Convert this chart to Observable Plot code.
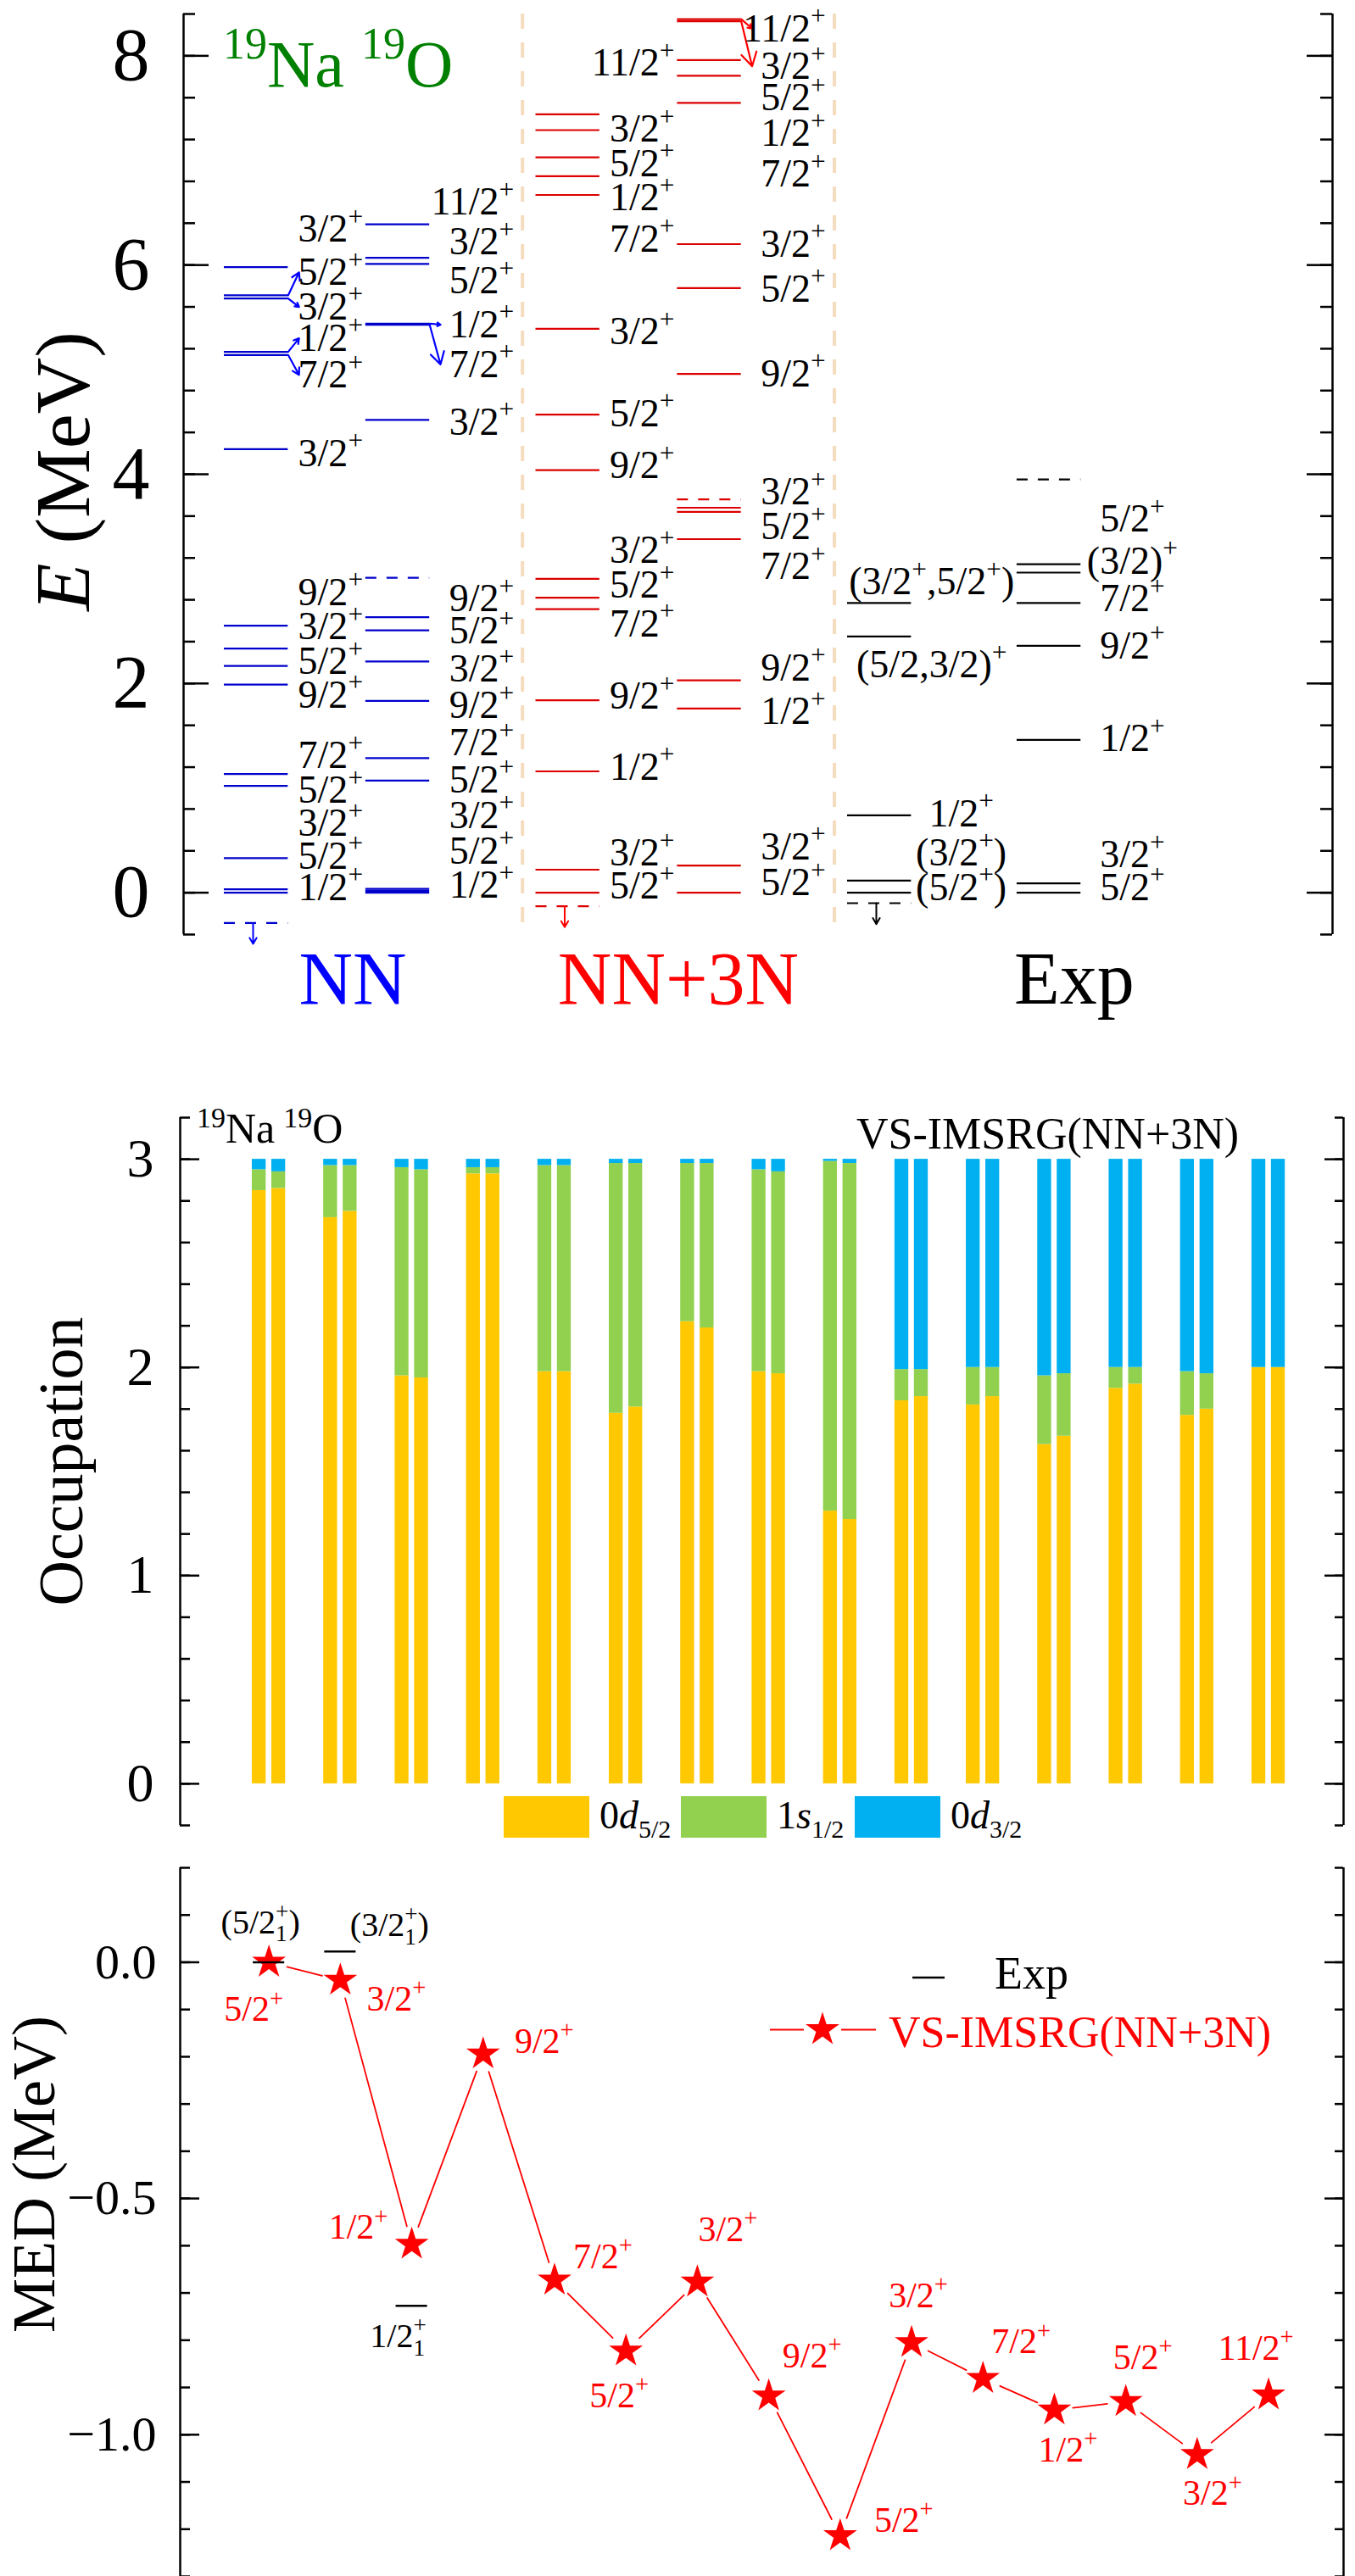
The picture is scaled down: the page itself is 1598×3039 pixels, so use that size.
<!DOCTYPE html>
<html><head><meta charset="utf-8">
<script src="https://cdn.jsdelivr.net/npm/d3@7"></script>
<script src="https://cdn.jsdelivr.net/npm/@observablehq/plot@0.6"></script>
<style>
html,body{margin:0;padding:0;background:#fff;}
#root{position:relative;width:1598px;height:3039px;overflow:hidden;background:#fff;}
#root svg, #root svg text, #root svg tspan {font-family:"Liberation Serif","Times New Roman",serif !important;}
</style></head><body><div id="root"></div>
<script>
// ---------------- DATA ----------------
// Panel 1: level schemes. Each row: [E (MeV), J^pi, label E (MeV), arrow-to-label flag]
const groups = ["NN", "NN+3N", "Exp"];
const nuclei = ["19Na", "19O"];
const nnNa = [
 [0.000,"1/2^+",0.05,0],[0.032,"5/2^+",0.35,0],[0.33,"3/2^+",0.66,0],[1.021,"5/2^+",0.98,0],[1.135,"7/2^+",1.31,0],
 [1.99,"9/2^+",1.89,0],[2.167,"5/2^+",2.21,0],[2.334,"3/2^+",2.54,0],[2.553,"9/2^+",2.87,0],[4.24,"3/2^+",4.20,0],
 [5.14,"7/2^+",4.95,1],[5.17,"1/2^+",5.30,1],[5.68,"3/2^+",5.60,1],[5.71,"5/2^+",5.93,1],[5.98,"3/2^+",6.34,0]];
const nnO = [
 [0.000,"1/2^+",0.07,0],[0.018,"5/2^+",0.40,0],[0.036,"3/2^+",0.74,0],[1.072,"5/2^+",1.08,0],[1.286,"7/2^+",1.43,0],
 [1.834,"9/2^+",1.79,0],[2.21,"3/2^+",2.135,0],[2.508,"5/2^+",2.50,0],[2.634,"9/2^+",2.81,0],[4.52,"3/2^+",4.50,0],
 [5.43,"7/2^+",5.05,1],[5.44,"1/2^+",5.43,1],[6.01,"5/2^+",5.85,0],[6.07,"3/2^+",6.22,0],[6.39,"11/2^+",6.60,0]];
const nn3nNa = [
 [0.00,"5/2^+",0.065,0],[0.22,"3/2^+",0.38,0],[1.16,"1/2^+",1.20,0],[1.84,"9/2^+",1.88,0],[2.71,"7/2^+",2.57,0],
 [2.82,"5/2^+",2.94,0],[3.00,"3/2^+",3.27,0],[4.04,"9/2^+",4.08,0],[4.57,"5/2^+",4.58,0],[5.39,"3/2^+",5.36,0],
 [6.67,"7/2^+",6.25,0],[6.85,"1/2^+",6.64,0],[7.03,"5/2^+",6.97,0],[7.29,"3/2^+",7.30,0],[7.44,"11/2^+",7.93,0]];
const nn3nO = [
 [0.00,"5/2^+",0.095,0],[0.26,"3/2^+",0.44,0],[1.76,"1/2^+",1.73,0],[2.03,"9/2^+",2.15,0],[3.38,"7/2^+",3.12,0],
 [3.64,"5/2^+",3.50,0],[3.68,"3/2^+",3.83,0],[4.96,"9/2^+",4.96,0],[5.78,"5/2^+",5.77,0],[6.20,"3/2^+",6.20,0],
 [7.55,"7/2^+",6.87,0],[7.81,"1/2^+",7.26,0],[7.96,"5/2^+",7.60,0],[8.33,"3/2^+",7.90,1],[8.35,"11/2^+",8.26,1]];
const expNa = [[0.00,"(5/2^+)",0.05,0],[0.116,"(3/2^+)",0.38,0],[0.74,"1/2^+",0.755,0],[2.45,"(5/2,3/2)^+",2.18,0],[2.77,"(3/2^+,5/2^+)",2.97,0]];
const expO = [[0.00,"5/2^+",0.05,0],[0.09,"3/2^+",0.36,0],[1.46,"1/2^+",1.47,0],[2.36,"9/2^+",2.36,0],[2.77,"7/2^+",2.81,0],[3.06,"(3/2)^+",3.17,0],[3.14,"5/2^+",3.57,0]];
// particle-emission thresholds [19Na, 19O] (MeV)
const nnThr = [-0.29, 3.01];
const nn3nThr = [-0.13, 3.76];
const expThr = [-0.10, 3.95];

// Panel 2: occupations of 15 states (pairs: 19Na, 19O)
const orbits = ["0d5/2", "1s1/2", "0d3/2"];
const naD52 = [2.85,2.72,1.96,2.93,1.98,1.78,2.22,1.98,1.31,1.84,1.82,1.63,1.90,1.77,2.00];
const naS12 = [0.10,0.25,1.00,0.03,0.99,1.20,0.76,0.97,1.68,0.15,0.18,0.33,0.10,0.21,0.00];
const naD32 = [0.05,0.03,0.04,0.04,0.03,0.02,0.02,0.05,0.01,1.01,1.00,1.04,1.00,1.02,1.00];
const oD52  = [2.86,2.75,1.95,2.93,1.98,1.81,2.19,1.97,1.27,1.86,1.86,1.67,1.92,1.80,2.00];
const oS12  = [0.08,0.22,1.00,0.03,0.99,1.17,0.79,0.97,1.71,0.13,0.14,0.30,0.08,0.17,0.00];
const oD32  = [0.06,0.03,0.05,0.04,0.03,0.02,0.02,0.06,0.02,1.01,1.00,1.03,1.00,1.03,1.00];

// Panel 3: mirror energy differences (MeV)
const medJ = ["5/2","3/2","1/2","9/2","7/2","5/2","3/2","9/2","5/2","3/2","7/2","1/2","5/2","3/2","11/2"];
const medCalc = [0.000,-0.038,-0.597,-0.194,-0.673,-0.823,-0.677,-0.918,-1.214,-0.805,-0.881,-0.948,-0.930,-1.042,-0.916];
const medExp = [0.000, 0.023, -0.727];
const medExpJ = ["(5/2_1^+)", "(3/2_1^+)", "1/2_1^+"];

// ---------------- LAYOUT / STYLE ----------------
const W = 1598;
const FONT = '"Liberation Serif","Times New Roman",serif';
const root = document.getElementById("root");
const lineColor = ["#0000CC", "#DD0000", "#000000"];
const arrowColor = ["#0000FF", "#FF0000", "#000000"];
const groupColor = ["#0000FF", "#FF0000", "#000000"];
const orbitColor = ["#FFC800", "#92D050", "#00B0F0"];
const RED = "#FF0000";

function place(svg, top) {
  svg.style.position = "absolute"; svg.style.left = "0px"; svg.style.top = top + "px";
  root.appendChild(svg);
  richify(svg);
}
// turn ^x / _x markup into superscript / subscript tspans
function richify(svg) {
  svg.querySelectorAll("text").forEach(t => {
    const s = t.textContent;
    if (!/[\^_]/.test(s)) return;
    const fs = parseFloat(getComputedStyle(t).fontSize) || 40;
    const small = fs * 0.68;
    const toks = [];
    let i = 0;
    while (i < s.length) {
      const c = s[i];
      if (c === "^" || c === "_") {
        let content;
        if (s[i + 1] === "{") { const j = s.indexOf("}", i + 2); content = s.slice(i + 2, j); i = j + 1; }
        else { content = s[i + 1]; i += 2; }
        toks.push({type: c === "^" ? "sup" : "sub", text: content});
      } else {
        let j = i; while (j < s.length && s[j] !== "^" && s[j] !== "_") j++;
        toks.push({type: "n", text: s.slice(i, j)}); i = j;
      }
    }
    t.textContent = "";
    let cur = 0, prev = null;
    toks.forEach(tok => {
      const ts = document.createElementNS("http://www.w3.org/2000/svg", "tspan");
      const target = tok.type === "sup" ? -fs * 0.42 : tok.type === "sub" ? fs * 0.24 : 0;
      ts.setAttribute("dy", (target - cur).toFixed(2)); cur = target;
      if (tok.type !== "n") ts.setAttribute("font-size", small.toFixed(1));
      if (tok.type === "sup" && prev && prev.type === "sub") ts.setAttribute("dx", (-prev.text.length * small * 0.5).toFixed(1));
      ts.textContent = tok.text;
      t.appendChild(ts);
      prev = tok;
    });
  });
}

// ---------------- PANEL 1 ----------------
{
  const xd = [-0.1306, 3.5565], yd = [-0.4, 8.4];
  const mL = 216, mR = 27, fw = W - mL - mR;
  const lineLen = 0.205, oOff = [0.454, 0.454, 0.544];
  const levels = [], labEnd = [], labMid = [], arrows = [], thrLines = [], thrArrows = [];
  const sets = [[nnNa, nnO, nnThr], [nn3nNa, nn3nO, nn3nThr], [expNa, expO, expThr]];
  sets.forEach(([na, o, thr], g) => {
    [na, o].forEach((rows, n) => {
      const x1 = g + (n ? oOff[g] : 0), x2 = x1 + lineLen;
      rows.forEach(([E, J, lE, arr]) => {
        levels.push({x1, x2, E, c: lineColor[g]});
        if (g < 2) labEnd.push({x: g + (n ? 0.93 : 0.445), y: lE, J});
        else labMid.push({x: g + (n ? 0.914 : (J.length > 8 ? 0.27 : 0.365)), y: lE, J});
        if (arr) arrows.push({x1: x2, y1: E, x2: x2 + 0.035, y2: lE, c: arrowColor[g]});
      });
      thrLines.push({x1, x2, E: thr[n], c: lineColor[g]});
      if (n === 0) thrArrows.push({x: (x1 + x2) / 2 - 0.01, y1: thr[n], y2: thr[n] - 0.2, c: arrowColor[g]});
    });
  });
  const major = [0, 2, 4, 6, 8];
  const minor = d3.range(-1, 22).map(i => +(i * 0.4).toFixed(2));
  const p1 = Plot.plot({
    width: W, height: 1200, marginLeft: mL, marginRight: mR, marginTop: 16, marginBottom: 98,
    x: {domain: xd, axis: null}, y: {domain: yd},
    color: {type: "identity"},
    style: {fontFamily: FONT, background: "transparent", color: "black"},
    marks: [
      Plot.ruleX([0.957, 1.958], {stroke: "#F6DCBE", strokeWidth: 4, strokeDasharray: "18,16"}),
      Plot.ruleY(levels, {x1: "x1", x2: "x2", y: "E", stroke: "c", strokeWidth: 2.2}),
      Plot.ruleY(thrLines, {x1: "x1", x2: "x2", y: "E", stroke: "c", strokeWidth: 2.2, strokeDasharray: "13,12"}),
      Plot.arrow(thrArrows, {x1: "x", x2: "x", y1: "y1", y2: "y2", stroke: "c", strokeWidth: 2, headLength: 14}),
      Plot.arrow(arrows, {x1: "x1", y1: "y1", x2: "x2", y2: "y2", stroke: "c", strokeWidth: 2.2, headLength: 13}),
      Plot.text(labEnd, {x: "x", y: "y", text: "J", textAnchor: "end", fontSize: 46, fill: "black", fontFamily: FONT}),
      Plot.text(labMid, {x: "x", y: "y", text: "J", textAnchor: "middle", fontSize: 46, fill: "black", fontFamily: FONT}),
      Plot.ruleX([xd[0], xd[1]], {stroke: "black", strokeWidth: 2.5}),
      Plot.tickY(minor, {y: d => d, insetRight: fw - 14, stroke: "black", strokeWidth: 2.5}),
      Plot.tickY(major, {y: d => d, insetRight: fw - 30, stroke: "black", strokeWidth: 2.5}),
      Plot.tickY(minor, {y: d => d, insetLeft: fw - 14, stroke: "black", strokeWidth: 2.5}),
      Plot.tickY(major, {y: d => d, insetLeft: fw - 30, stroke: "black", strokeWidth: 2.5}),
      Plot.axisY(major, {anchor: "left", tickSize: 0, tickPadding: 40, fontSize: 88, label: null, tickFormat: d => String(d)})
    ]
  });
  place(p1, 0);
}

// ---------------- PANEL 2 ----------------
{
  const xd = [-1.243, 15.05], yd = [-0.2, 3.2];
  const mL = 212, mR = 14, fw = W - mL - mR;
  const bars = [];
  naD52.forEach((_, k) => {
    [[naD52[k], naS12[k], naD32[k]], [oD52[k], oS12[k], oD32[k]]].forEach((vals, n) => {
      let y = 0;
      vals.forEach((v, j) => {
        bars.push({x1: k + (n ? 0.039 : -0.234), x2: k + (n ? 0.233 : -0.040), y1: y, y2: y + v, orbit: orbits[j]});
        y += v;
      });
    });
  });
  const major = [0, 1, 2, 3];
  const minor = d3.range(-1, 17).map(i => +(i * 0.2).toFixed(2));
  const p2 = Plot.plot({
    width: W, height: 950, marginLeft: mL, marginRight: mR, marginTop: 68, marginBottom: 47,
    x: {domain: xd, axis: null}, y: {domain: yd},
    color: {domain: orbits, range: orbitColor},
    style: {fontFamily: FONT, background: "transparent", color: "black"},
    marks: [
      Plot.rect(bars, {x1: "x1", x2: "x2", y1: "y1", y2: "y2", fill: "orbit"}),
      Plot.ruleX([xd[0], xd[1]], {stroke: "black", strokeWidth: 2.5}),
      Plot.tickY(minor, {y: d => d, insetRight: fw - 12, stroke: "black", strokeWidth: 2.5}),
      Plot.tickY(major, {y: d => d, insetRight: fw - 23, stroke: "black", strokeWidth: 2.5}),
      Plot.tickY(minor, {y: d => d, insetLeft: fw - 10, stroke: "black", strokeWidth: 2.5}),
      Plot.tickY(major, {y: d => d, insetLeft: fw - 22, stroke: "black", strokeWidth: 2.5}),
      Plot.axisY(major, {anchor: "left", tickSize: 0, tickPadding: 31, fontSize: 64, label: null, tickFormat: d => String(d)})
    ]
  });
  place(p2, 1250);
}

// ---------------- PANEL 3 ----------------
{
  const xd = [-1.243, 15.05], yd = [-1.3, 0.2];
  const mL = 212, mR = 14, fw = W - mL - mR, top = 53, H = 889;
  const pxX = fw / (xd[1] - xd[0]), pxY = (H - top) / (yd[1] - yd[0]);
  const labOff = [[-18,56],[66,22],[-63,-20],[72,-15],[57,-28],[-8,53],[36,-62],[51,-47],[75,-18],[8,-55],[45,-43],[16,47],[20,-52],[18,46],[-15,-55]];
  const expOff = [[-10,-47],[58,-31],[-16,36]];
  const pts = medCalc.map((v, k) => ({k, v, J: medJ[k] + "^+"}));
  const ex = medExp.map((v, k) => ({k, v, J: medExpJ[k]}));
  const segs = d3.pairs(pts).map(([a, b]) => ({x1: a.k, y1: a.v, x2: b.k, y2: b.v}));
  const major = [0, -0.5, -1.0];
  const minor = d3.range(-13, 3).map(i => +(i * 0.1).toFixed(2));
  const p3 = Plot.plot({
    width: W, height: H, marginLeft: mL, marginRight: mR, marginTop: top, marginBottom: 0,
    x: {domain: xd, axis: null}, y: {domain: yd},
    style: {fontFamily: FONT, background: "transparent", color: "black"},
    marks: [
      Plot.arrow(segs, {x1: "x1", y1: "y1", x2: "x2", y2: "y2", stroke: RED, strokeWidth: 1.8, headLength: 0, inset: 22}),
      Plot.dot(pts, {x: "k", y: "v", symbol: "star", r: 12.5, fill: RED}),
      Plot.ruleY(ex, {x1: d => d.k - 0.22, x2: d => d.k + 0.22, y: "v", stroke: "black", strokeWidth: 2.5}),
      Plot.text(pts, {x: d => d.k + labOff[d.k][0] / pxX, y: d => d.v - labOff[d.k][1] / pxY, text: "J", fill: RED, fontSize: 42, fontFamily: FONT}),
      Plot.text(ex, {x: d => d.k + expOff[d.k][0] / pxX, y: d => d.v - expOff[d.k][1] / pxY, text: "J", fill: "black", fontSize: 40, fontFamily: FONT}),
      Plot.ruleX([xd[0], xd[1]], {stroke: "black", strokeWidth: 2.5}),
      Plot.tickY(minor, {y: d => d, insetRight: fw - 12, stroke: "black", strokeWidth: 2.5}),
      Plot.tickY(major, {y: d => d, insetRight: fw - 23, stroke: "black", strokeWidth: 2.5}),
      Plot.tickY(minor, {y: d => d, insetLeft: fw - 10, stroke: "black", strokeWidth: 2.5}),
      Plot.tickY(major, {y: d => d, insetLeft: fw - 22, stroke: "black", strokeWidth: 2.5}),
      Plot.axisY(major, {anchor: "left", tickSize: 0, tickPadding: 28, fontSize: 58, label: null,
        tickFormat: d => d === 0 ? "0.0" : "\u2212" + Math.abs(d).toFixed(1)})
    ]
  });
  place(p3, 2150);
}

// ---------------- OVERLAY: titles, axis labels, legends ----------------
{
  const star = d3.symbol(d3.symbolStar, Math.PI * 12.5 * 12.5)();
  const groupCenters = [416, 800, 1267];
  const legX = [594, 803, 1008];
  const legLab = [["0", "d", "5/2"], ["1", "s", "1/2"], ["0", "d", "3/2"]];
  let s = `<svg xmlns="http://www.w3.org/2000/svg" width="1598" height="3039" style="position:absolute;left:0;top:0">`;
  s += `<text transform="translate(105,556) rotate(-90)" text-anchor="middle" font-size="92"><tspan font-style="italic">E</tspan> (MeV)</text>`;
  s += `<text x="263" y="102" font-size="78" fill="#008000"><tspan font-size="52" dy="-33">19</tspan><tspan dy="33">Na</tspan><tspan dx="20" font-size="52" dy="-33">19</tspan><tspan dy="33">O</tspan></text>`;
  groups.forEach((g, i) => {
    s += `<text x="${groupCenters[i]}" y="1184" text-anchor="middle" font-size="88" fill="${groupColor[i]}">${g}</text>`;
  });
  s += `<text transform="translate(97,1724) rotate(-90)" text-anchor="middle" font-size="74">Occupation</text>`;
  s += `<text x="232" y="1348" font-size="50"><tspan font-size="34" dy="-18">19</tspan><tspan dy="18">Na</tspan><tspan dx="10" font-size="34" dy="-18">19</tspan><tspan dy="18">O</tspan></text>`;
  s += `<text x="1010" y="1355" font-size="52">VS-IMSRG(NN+3N)</text>`;
  orbits.forEach((o, i) => {
    s += `<rect x="${legX[i]}" y="2119" width="101" height="49" fill="${orbitColor[i]}"/>`;
    const [a, b, c] = legLab[i];
    s += `<text x="${legX[i] + 113}" y="2157" font-size="46">${a}<tspan font-style="italic">${b}</tspan><tspan font-size="30" dy="11">${c}</tspan></text>`;
  });
  s += `<text transform="translate(64,2565) rotate(-90)" text-anchor="middle" font-size="72">MED (MeV)</text>`;
  s += `<line x1="1076" x2="1114" y1="2333" y2="2333" stroke="black" stroke-width="2.5"/>`;
  s += `<text x="1173" y="2346" font-size="54">Exp</text>`;
  s += `<line x1="908" x2="948" y1="2394.5" y2="2394.5" stroke="${RED}" stroke-width="2"/>`;
  s += `<line x1="992" x2="1033" y1="2394.5" y2="2394.5" stroke="${RED}" stroke-width="2"/>`;
  s += `<path d="${star}" transform="translate(970,2394.5)" fill="${RED}"/>`;
  s += `<text x="1048" y="2415" font-size="52" fill="${RED}">VS-IMSRG(NN+3N)</text>`;
  s += `</svg>`;
  root.insertAdjacentHTML("beforeend", s);
}
</script></body></html>
